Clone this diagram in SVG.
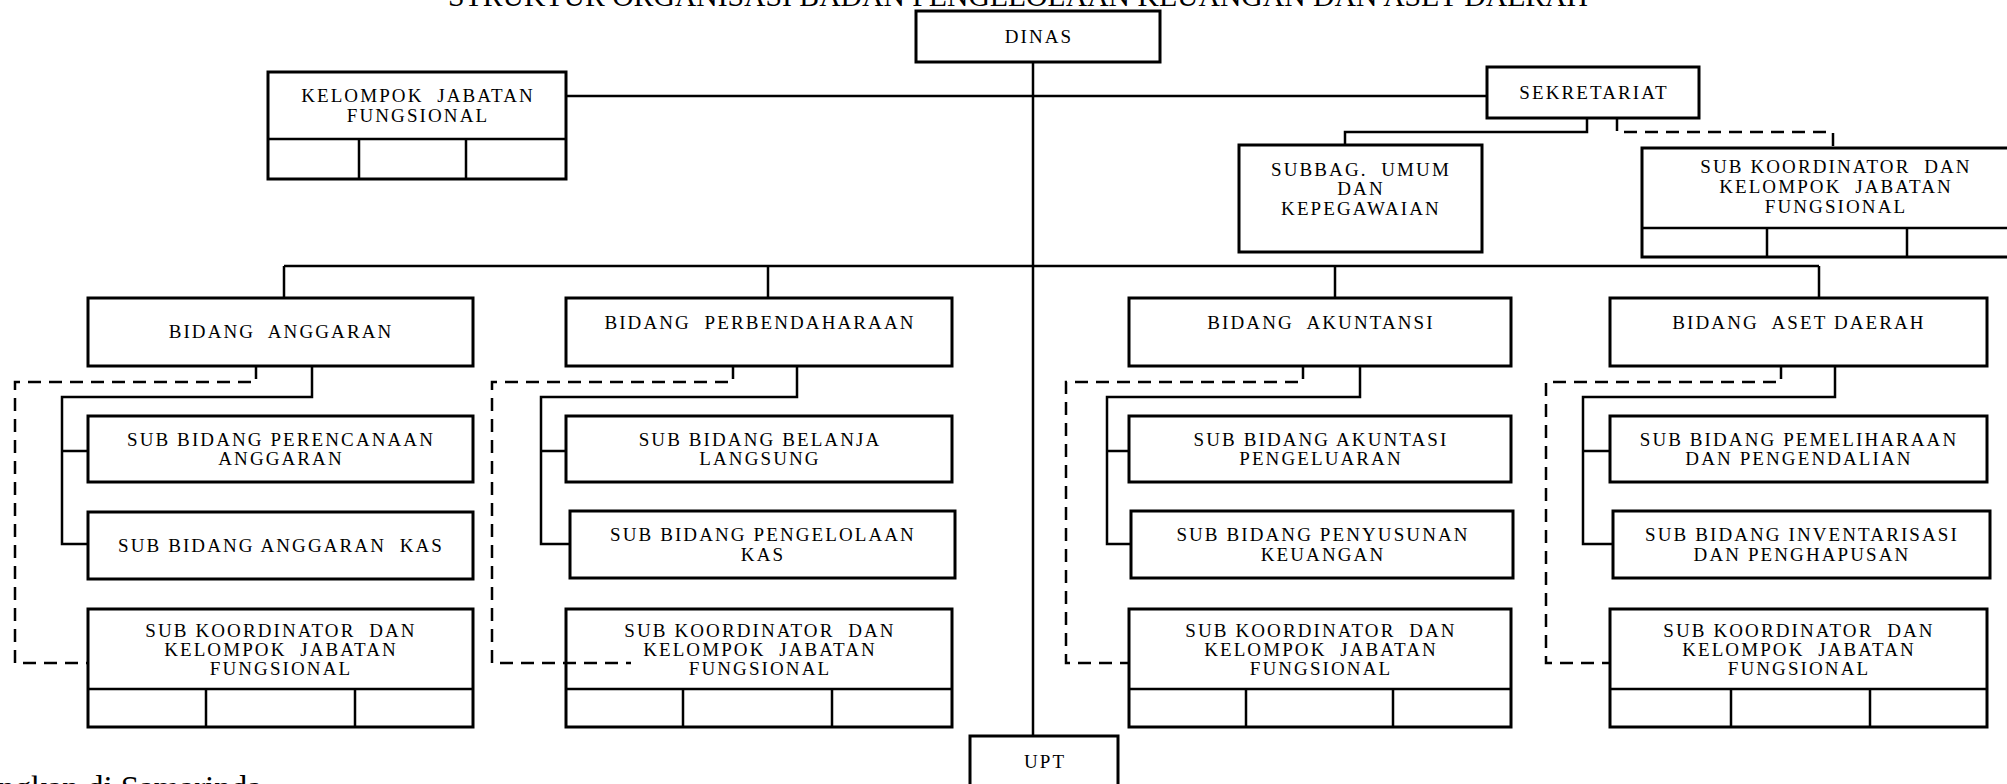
<svg xmlns="http://www.w3.org/2000/svg" width="2007" height="784" viewBox="0 0 2007 784" xml:space="preserve">
<style>
.box{fill:#fff;stroke:#000;stroke-width:3}
.ln{fill:none;stroke:#000;stroke-width:2.5}
.dash{fill:none;stroke:#000;stroke-width:2.5;stroke-dasharray:13 8}
.t{font-family:"Liberation Serif","Times New Roman",serif;font-size:19px;letter-spacing:2.1px;text-anchor:middle;fill:#000;white-space:pre}
.title{font-family:"Liberation Serif","Times New Roman",serif;font-size:29.7px;text-anchor:middle;fill:#000}
.foot{font-family:"Liberation Serif","Times New Roman",serif;font-size:33px;fill:#000}
</style>
<rect width="2007" height="784" fill="#fff"/>
<text class="title" x="1018" y="6">STRUKTUR ORGANISASI BADAN PENGELOLAAN KEUANGAN DAN ASET DAERAH</text>
<text class="foot" x="-2" y="799">ngkan di Samarinda</text>

<g id="dinas"><rect class="box" x="916" y="11" width="244" height="51"/><text class="t" x="1039" y="43">DINAS</text></g>

<g id="kelompok-jf"><rect class="box" x="268" y="72" width="298" height="107"/><path class="ln" d="M268,139 H566 M359,139 V179 M466,139 V179"/>
<text class="t" x="418" y="102">KELOMPOK  JABATAN</text><text class="t" x="418" y="122">FUNGSIONAL</text></g>

<g id="sekretariat"><rect class="box" x="1487" y="67" width="212" height="51"/><text class="t" x="1594" y="99">SEKRETARIAT</text></g>

<g id="subbag"><rect class="box" x="1239" y="145" width="243" height="107"/>
<text class="t" x="1361" y="176">SUBBAG.  UMUM</text><text class="t" x="1361" y="195">DAN</text><text class="t" x="1361" y="215">KEPEGAWAIAN</text></g>

<g id="subkoor-sek"><rect class="box" x="1642" y="148" width="380" height="109"/><path class="ln" d="M1642,228 H2010 M1767,228 V257 M1907,228 V257"/>
<text class="t" x="1836" y="173">SUB KOORDINATOR  DAN</text><text class="t" x="1836" y="193">KELOMPOK  JABATAN</text><text class="t" x="1836" y="213">FUNGSIONAL</text></g>

<g id="bidang-anggaran"><rect class="box" x="88" y="298" width="385" height="68"/><text class="t" x="281" y="338">BIDANG  ANGGARAN</text></g>
<g id="bidang-perbendaharaan"><rect class="box" x="566" y="298" width="386" height="68"/><text class="t" x="760" y="329">BIDANG  PERBENDAHARAAN</text></g>
<g id="bidang-akuntansi"><rect class="box" x="1129" y="298" width="382" height="68"/><text class="t" x="1321" y="329">BIDANG  AKUNTANSI</text></g>
<g id="bidang-aset"><rect class="box" x="1610" y="298" width="377" height="68"/><text class="t" x="1799" y="329">BIDANG  ASET DAERAH</text></g>

<g id="sb-perencanaan"><rect class="box" x="88" y="416" width="385" height="66"/><text class="t" x="281" y="446">SUB BIDANG PERENCANAAN</text><text class="t" x="281" y="465">ANGGARAN</text></g>
<g id="sb-anggaran-kas"><rect class="box" x="88" y="512" width="385" height="67"/><text class="t" x="281" y="552">SUB BIDANG ANGGARAN  KAS</text></g>
<g id="sk-anggaran"><rect class="box" x="88" y="609" width="385" height="118"/><path class="ln" d="M88,689 H473 M206,689 V727 M355,689 V727"/>
<text class="t" x="281" y="637">SUB KOORDINATOR  DAN</text><text class="t" x="281" y="656">KELOMPOK  JABATAN</text><text class="t" x="281" y="675">FUNGSIONAL</text></g>

<g id="sb-belanja"><rect class="box" x="566" y="416" width="386" height="66"/><text class="t" x="760" y="446">SUB BIDANG BELANJA</text><text class="t" x="760" y="465">LANGSUNG</text></g>
<g id="sb-pengelolaan-kas"><rect class="box" x="570" y="511" width="385" height="67"/><text class="t" x="763" y="541">SUB BIDANG PENGELOLAAN</text><text class="t" x="763" y="561">KAS</text></g>
<g id="sk-perbendaharaan"><rect class="box" x="566" y="609" width="386" height="118"/><path class="ln" d="M566,689 H952 M683,689 V727 M832,689 V727"/>
<text class="t" x="760" y="637">SUB KOORDINATOR  DAN</text><text class="t" x="760" y="656">KELOMPOK  JABATAN</text><text class="t" x="760" y="675">FUNGSIONAL</text></g>

<g id="sb-akuntansi-pengeluaran"><rect class="box" x="1129" y="416" width="382" height="66"/><text class="t" x="1321" y="446">SUB BIDANG AKUNTASI</text><text class="t" x="1321" y="465">PENGELUARAN</text></g>
<g id="sb-penyusunan"><rect class="box" x="1131" y="511" width="382" height="67"/><text class="t" x="1323" y="541">SUB BIDANG PENYUSUNAN</text><text class="t" x="1323" y="561">KEUANGAN</text></g>
<g id="sk-akuntansi"><rect class="box" x="1129" y="609" width="382" height="118"/><path class="ln" d="M1129,689 H1511 M1246,689 V727 M1393,689 V727"/>
<text class="t" x="1321" y="637">SUB KOORDINATOR  DAN</text><text class="t" x="1321" y="656">KELOMPOK  JABATAN</text><text class="t" x="1321" y="675">FUNGSIONAL</text></g>

<g id="sb-pemeliharaan"><rect class="box" x="1610" y="416" width="377" height="66"/><text class="t" x="1799" y="446">SUB BIDANG PEMELIHARAAN</text><text class="t" x="1799" y="465">DAN PENGENDALIAN</text></g>
<g id="sb-inventarisasi"><rect class="box" x="1613" y="511" width="377" height="67"/><text class="t" x="1802" y="541">SUB BIDANG INVENTARISASI</text><text class="t" x="1802" y="561">DAN PENGHAPUSAN</text></g>
<g id="sk-aset"><rect class="box" x="1610" y="609" width="377" height="118"/><path class="ln" d="M1610,689 H1987 M1731,689 V727 M1870,689 V727"/>
<text class="t" x="1799" y="637">SUB KOORDINATOR  DAN</text><text class="t" x="1799" y="656">KELOMPOK  JABATAN</text><text class="t" x="1799" y="675">FUNGSIONAL</text></g>

<g id="upt"><rect class="box" x="970" y="736" width="148" height="70"/><text class="t" x="1045" y="768">UPT</text></g>

<g id="connectors">
<path class="ln" d="M1033,62 V736 M566,96 H1487 M284,266 H1819 M284,266 V298 M768,266 V298 M1335,266 V298 M1819,266 V298"/>
<path class="ln" d="M1587,118 V132 H1345 V145"/>
<path class="dash" d="M1617,118 V132 H1833 V148"/>
<path class="ln" d="M312,366 V397 H62 V544 H88 M62,451 H88"/>
<path class="dash" d="M256,366 V382 H15 V663 H88"/>
<path class="ln" d="M797,366 V397 H541 V544 H570 M541,451 H566"/>
<path class="dash" d="M733,366 V382 H492 V663 H631"/>
<path class="ln" d="M1360,366 V397 H1107 V544 H1131 M1107,451 H1129"/>
<path class="dash" d="M1303,366 V382 H1066 V663 H1129"/>
<path class="ln" d="M1835,366 V397 H1583 V544 H1613 M1583,451 H1610"/>
<path class="dash" d="M1781,366 V382 H1546 V663 H1610"/>
</g>
</svg>
